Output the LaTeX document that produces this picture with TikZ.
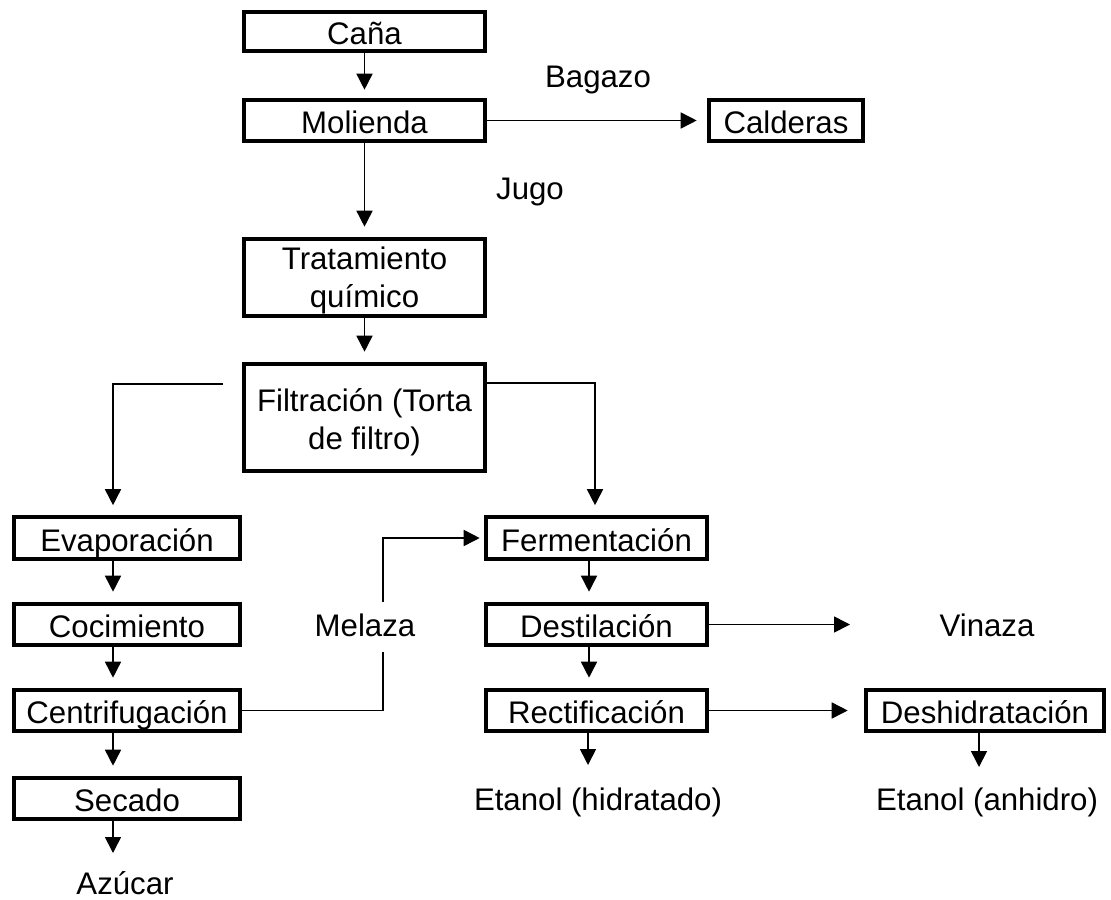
\documentclass[tikz,border=0pt]{standalone}
\usepackage{fontspec}
\setmainfont{Liberation Sans}
\usetikzlibrary{arrows.meta}

\begin{document}
\begin{tikzpicture}[x=0.5pt, y=-0.5pt,
  box/.style={draw, line width=2.1pt, inner sep=0pt,
              minimum height=20.7pt, font=\fontsize{15.6}{19}\selectfont},
  one/.style={box, text height=13pt, text depth=0pt},
  lbl/.style={inner sep=0pt, font=\fontsize{15.6}{19}\selectfont},
  ln/.style={line width=0.8pt},
  arr/.style={ln, -{Triangle[length=8pt,width=8pt]}},
  into/.style={arr, shorten >=5pt}]
\useasboundingbox (0,0) rectangle (1111,899);
\node[one, minimum width=120.7pt, minimum height=19.7pt] (cana) at (364.5,31.5) {Caña};
\node[one, minimum width=120.7pt] (mol) at (364.5,120.5) {Molienda};
\node[one, minimum width=77.2pt, minimum height=20.2pt] (cald) at (786,120.5) {Calderas};
\node[box, minimum width=120.7pt, minimum height=38.7pt, text height=29.5pt, text depth=0pt] (trat) at (364.5,277.5)
  {\begin{tabular}[b]{@{}c@{}}Tratamiento\\químico\end{tabular}};
\node[box, minimum width=120.7pt, minimum height=53.7pt, text height=32pt, text depth=0pt] (filt) at (364.5,417.5)
  {\begin{tabular}[b]{@{}c@{}}Filtración (Torta\\de filtro)\end{tabular}};
\node[one, minimum width=113.2pt] (evap) at (127,538) {Evaporación};
\node[one, minimum width=113.2pt] (coc) at (127,624.5) {Cocimiento};
\node[one, minimum width=113.2pt] (cent) at (127,710.5) {Centrifugación};
\node[one, minimum width=113.2pt] (sec) at (127,798.5) {Secado};
\node[one, minimum width=110.7pt] (ferm) at (596.5,538) {Fermentación};
\node[one, minimum width=110.7pt] (dest) at (596.5,624.5) {Destilación};
\node[one, minimum width=110.7pt] (rect) at (596.5,710.5) {Rectificación};
\node[one, minimum width=119.2pt] (desh) at (985,710.5) {Deshidratación};
\node[lbl] (bag) at (598,80) {Bagazo};
\node[lbl] (jugo) at (530,192) {Jugo};
\node[lbl] (mel) at (365,625) {Melaza};
\node[lbl] (vin) at (987,625) {Vinaza};
\node[lbl] (azu) at (125,883) {Azúcar};
\node[lbl] (hid) at (598,802) {Etanol (hidratado)};
\node[lbl] (anh) at (987,802) {Etanol (anhidro)};
\coordinate (lx) at (113,0);
\coordinate (rx) at (589,0);
\coordinate (fl) at (223,384);
\coordinate (fr) at (595,383);
\coordinate (mz1) at (383,652);
\coordinate (mz2) at (383,602);
\coordinate (azt) at (113,853);
\coordinate (hdt) at (588,765);
\coordinate (ant) at (979,767);
\coordinate (vzt) at (850,624.5);
\draw[into, shorten >=4pt] (cana) -- (mol);
\draw[into] (mol) -- (trat);
\draw[into] (trat) -- (filt);
\draw[into] (mol) -- (cald);
\draw[into] (fl) -| (evap.north -| lx);
\draw[into] (filt.east |- fr) -| (ferm.north -| fr);
\draw[into] (evap.south -| lx) -- (coc.north -| lx);
\draw[into] (coc.south -| lx) -- (cent.north -| lx);
\draw[into] (cent.south -| lx) -- (sec.north -| lx);
\draw[arr] (sec.south -| azt) -- (azt);
\draw[into] (ferm.south -| rx) -- (dest.north -| rx);
\draw[into] (dest.south -| rx) -- (rect.north -| rx);
\draw[arr] (rect.south -| hdt) -- (hdt);
\draw[arr] (desh.south -| ant) -- (ant);
\draw[arr] (dest.east) -- (vzt);
\draw[into, shorten >=8pt] (rect) -- (desh);
\draw[ln] (cent.east) -| (mz1);
\draw[into, shorten >=2pt] (mz2) |- (ferm.west);
\end{tikzpicture}
\end{document}
